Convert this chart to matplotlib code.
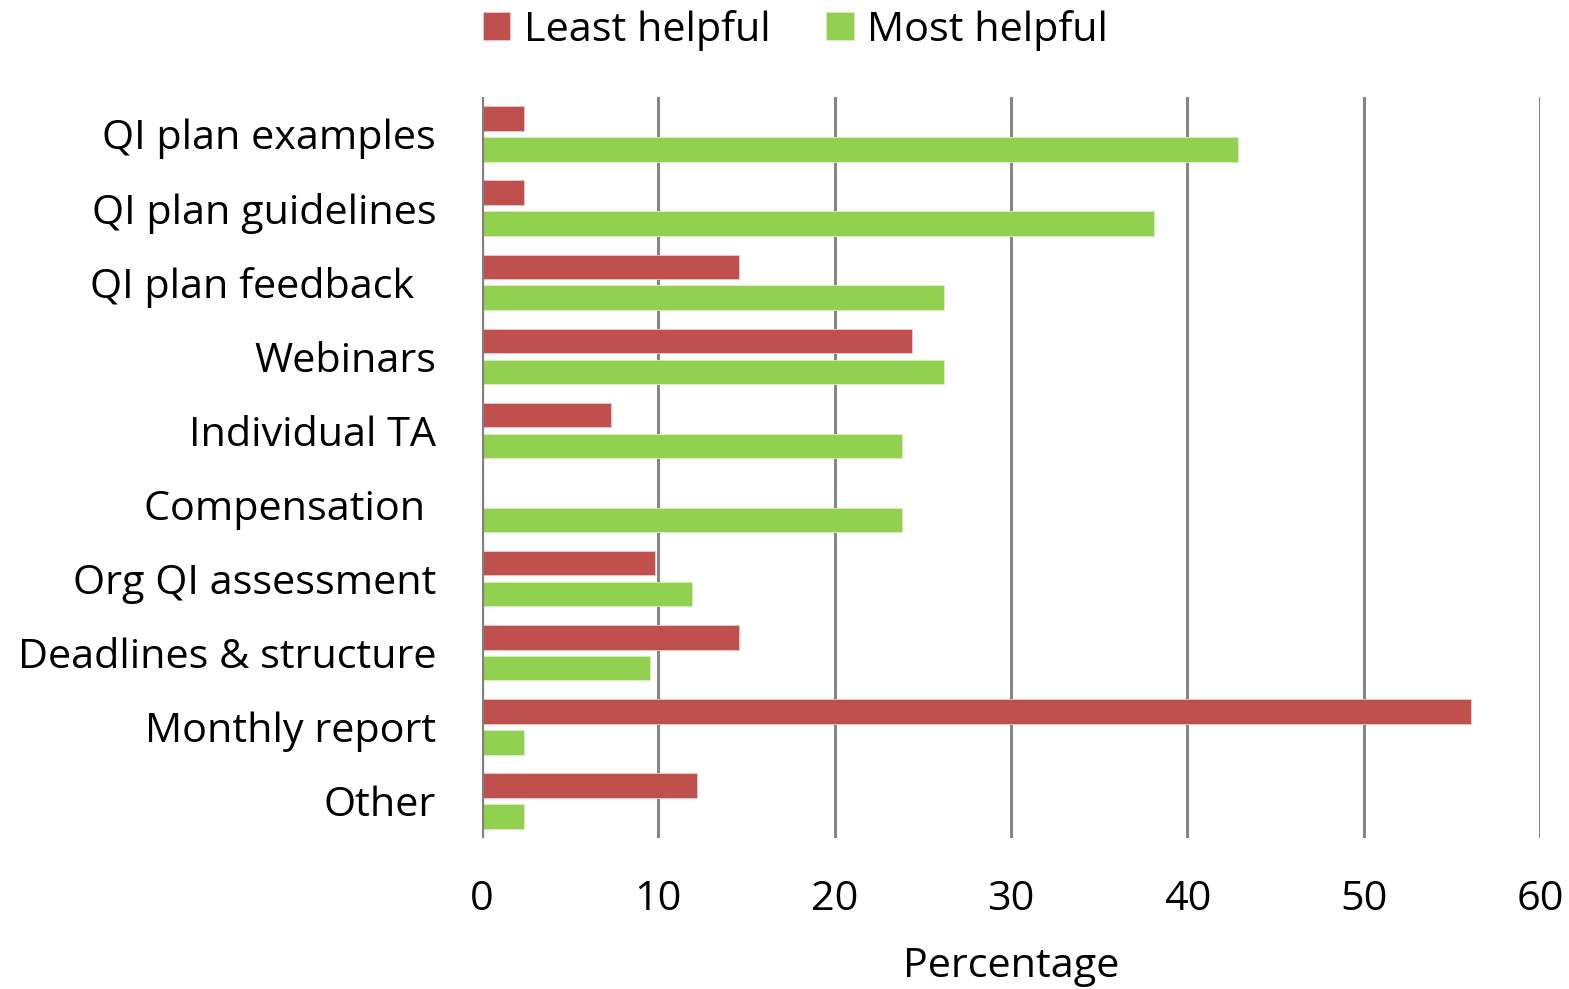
import matplotlib
matplotlib.use("Agg")
import matplotlib.pyplot as plt
import numpy as np

categories = ["QI plan examples", "QI plan guidelines", "QI plan feedback  ", "Webinars",
              "Individual TA", "Compensation ", "Org QI assessment", "Deadlines & structure",
              "Monthly report", "Other"]
least_helpful = [2.4, 2.4, 14.6, 24.4, 7.3, 0.0, 9.8, 14.6, 56.1, 12.2]
most_helpful = [42.9, 38.1, 26.2, 26.2, 23.8, 23.8, 11.9, 9.5, 2.4, 2.4]
xticks = [0, 10, 20, 30, 40, 50, 60]

RED = "#C0504D"
GREEN = "#92D050"
FONT = "Open Sans"
FS = 29.8

plt.rcParams['font.family'] = [FONT, 'DejaVu Sans']

fig = plt.figure(figsize=(15.69, 9.89), dpi=100)
ax = fig.add_axes([482/1569, 1-838/989, (1540-482)/1569, (838-97)/989])

y = np.arange(len(categories))
h = 0.33
off = 0.2085
ax.barh(y - off, least_helpful, height=h, color=RED, label="Least helpful", zorder=3,
        edgecolor="#f0c8c8", linewidth=0.6)
ax.barh(y + off, most_helpful, height=h, color=GREEN, label="Most helpful", zorder=3,
        edgecolor="#d8f0c0", linewidth=0.6)

ax.set_ylim(len(categories) - 0.5, -0.5)
ax.set_xlim(0, 60)
ax.set_xticks(xticks)
ax.set_xticklabels([str(t) for t in xticks])
ax.set_yticks(y)
ax.set_yticklabels(categories)

for s in ax.spines.values():
    s.set_visible(False)
ax.grid(axis='x', color="#868686", linewidth=2.2, zorder=1)
ax.axvline(0, color="#808080", linewidth=3, zorder=4)
ax.tick_params(axis='both', length=0, labelsize=FS)
ax.tick_params(axis='y', pad=33)
ax.tick_params(axis='x', pad=30)
ax.set_xlabel("Percentage", fontsize=FS, labelpad=19)

fig.legend(loc="upper center", bbox_to_anchor=(0.507, 1.028), ncol=2, frameon=False,
           fontsize=FS, handlelength=0.66, handleheight=0.66, handletextpad=0.33,
           columnspacing=1.35)

fig.savefig("out.png", dpi=100)
